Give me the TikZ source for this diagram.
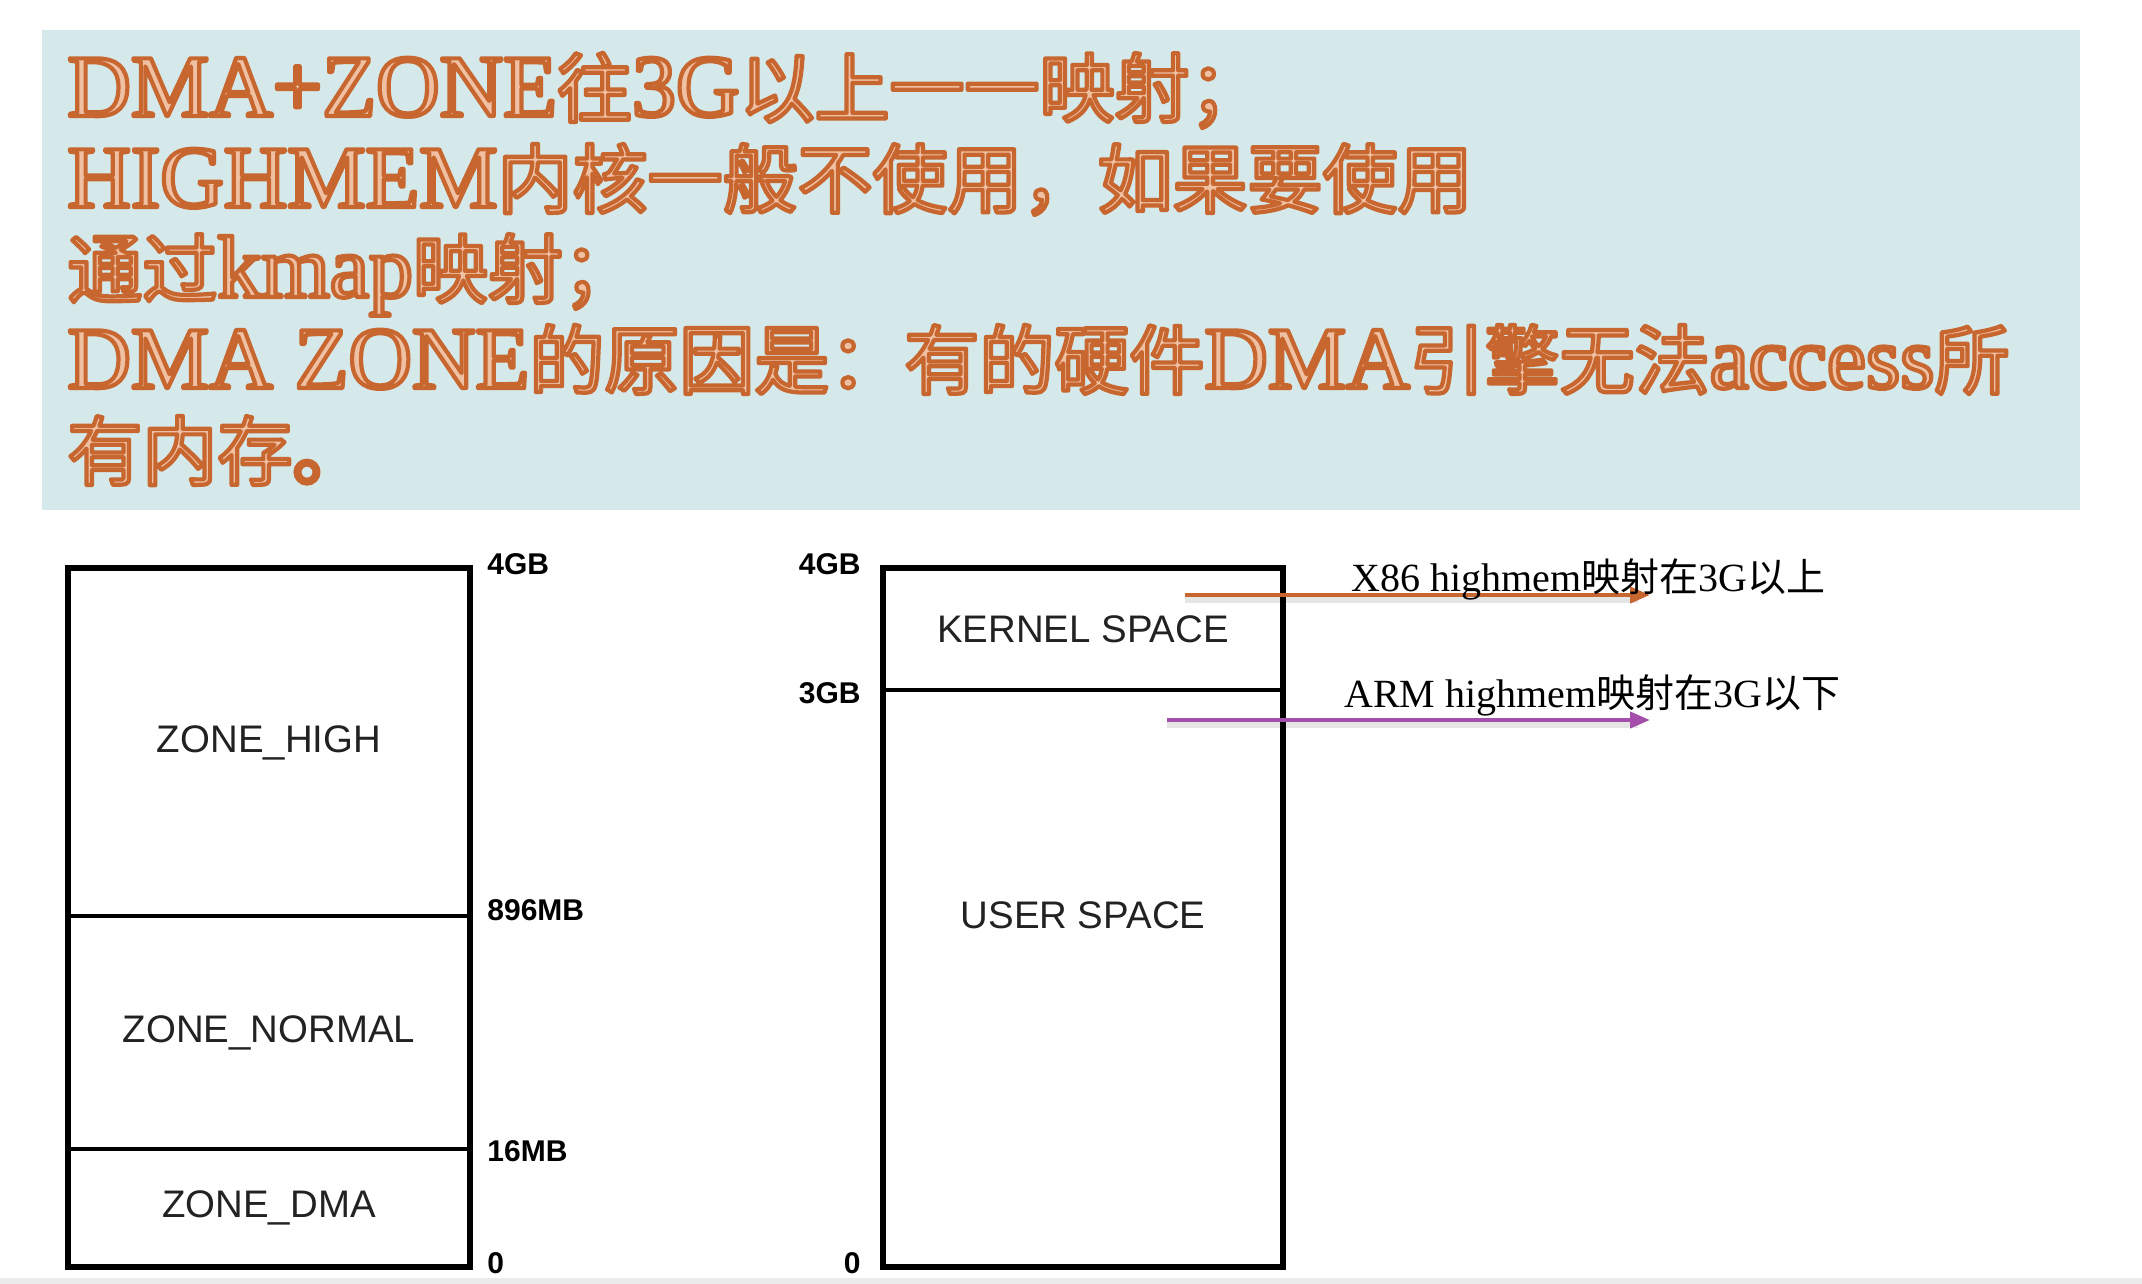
\documentclass[tikz,border=0pt]{standalone}
\usepackage{fontspec}
\setmainfont{Liberation Serif}
\setsansfont{Liberation Sans}
\newfontfamily\cjk{Noto Sans CJK SC}
\usetikzlibrary{arrows.meta}
\definecolor{panelbg}{HTML}{D5E8EA}
\definecolor{wordline}{HTML}{C8662F}
\definecolor{wordfill}{HTML}{F0C0A2}
\definecolor{archpurple}{HTML}{A44FAA}
\definecolor{stripgray}{HTML}{EBEBEB}
\definecolor{zonetext}{HTML}{222222}
\newcommand\hcjk[1]{{\cjk\fontsize{37.5}{45}\selectfont #1}}
\newcommand\lcjk[1]{{\cjk\fontsize{19.5}{24}\selectfont #1}}
\newcommand\wordart[1]{\special{pdf:literal direct 0.784 0.4 0.184 RG 2 Tr 2.1 w 1 j}#1\special{pdf:literal direct 0 Tr}}
\begin{document}
\begin{tikzpicture}[x=0.5pt,y=-0.5pt,
  headline/.style={anchor=base west,inner sep=0pt,text=wordfill,font=\fontsize{44}{50}\selectfont},
  zone/.style={draw=black,line width=1.75pt,minimum width=200pt,inner sep=0pt,font=\sffamily\fontsize{19.2}{23}\selectfont,text=zonetext},
  zonelabel/.style={inner sep=0pt,font=\sffamily\fontsize{19.2}{23}\selectfont,text=zonetext},
  addr/.style={inner sep=0pt,font=\sffamily\bfseries\fontsize{15}{18}\selectfont},
  maplabel/.style={anchor=base west,inner sep=0pt,font=\fontsize{20}{24}\selectfont},
  maparrow/.style={line width=2pt,-{Triangle[length=10pt,width=8pt]}},
  arrowshadow/.style={line width=3pt,black,opacity=0.10},
]
\useasboundingbox (0,0) rectangle (2142,1284);
\fill[white] (0,0) rectangle (2142,1284);
\fill[stripgray] (0,1278) rectangle (2142,1284);
\node[fill=panelbg,inner sep=0pt,minimum width=1019pt,minimum height=240pt,anchor=north west] (panel) at (42,30) {};
\node[headline] (l1) at (67,116) {\wordart{DMA+ZONE\hcjk{往}3G\hcjk{以上一一映射；}}};
\node[headline] (l2) at (67,207) {\wordart{HIGHMEM\hcjk{内核一般不使用，如果要使用}}};
\node[headline] (l3) at (67,297) {\wordart{\hcjk{通过}kmap\hcjk{映射；}}};
\node[headline] (l4) at (67,388) {\wordart{DMA ZONE\hcjk{的原因是：有的硬件}DMA\hcjk{引擎无法}access\hcjk{所}}};
\node[headline] (l5) at (67,479) {\wordart{\hcjk{有内存。}}};
% left memory map
\node[zone,minimum height=173.5pt] (zhigh) at (269,742.5) {ZONE\_HIGH};
\node[zone,minimum height=116.5pt] (znormal) at (269,1032.5) {ZONE\_NORMAL};
\node[zone,minimum height=58.5pt] (zdma) at (269,1207.5) {ZONE\_DMA};
\draw[line width=2.2pt] (zhigh.north west) rectangle (zdma.south east);
\node[addr,anchor=west] (a4l) at (487,564) {4GB};
\node[addr,anchor=west] (a896) at (487,910) {896MB};
\node[addr,anchor=west] (a16) at (487,1151) {16MB};
\node[addr,anchor=west] (a0l) at (487,1263) {0};
% right memory map
\node[zone,minimum width=199pt,minimum height=60.5pt] (kernel) at (1083,629.5) {KERNEL SPACE};
\node[zone,minimum width=199pt,minimum height=288pt] (user) at (1083,978) {};
\node[zonelabel] (usertext) at (1083,915) {USER SPACE};
\draw[line width=2.2pt] (kernel.north west) rectangle (user.south east);
\node[addr,anchor=east] (a4r) at (861,564) {4GB};
\node[addr,anchor=east] (a3r) at (861,693) {3GB};
\node[addr,anchor=east] (a0r) at (861,1263) {0};
% mapping arrows
\coordinate (x86s) at (1185,595);
\coordinate (x86e) at (1650,595);
\coordinate (arms) at (1167,720);
\coordinate (arme) at (1650,720);
\draw[arrowshadow] ([yshift=-2.5pt]x86s) -- ([yshift=-2.5pt,xshift=-6pt]x86e);
\draw[arrowshadow] ([yshift=-2.5pt]arms) -- ([yshift=-2.5pt,xshift=-6pt]arme);
\draw[maparrow,wordline] (x86s) -- (x86e);
\draw[maparrow,archpurple] (arms) -- (arme);
\node[maplabel] (x86lbl) at (1351,591) {X86 highmem\lcjk{映射在}3G\lcjk{以上}};
\node[maplabel] (armlbl) at (1344,707) {ARM highmem\lcjk{映射在}3G\lcjk{以下}};
\end{tikzpicture}
\end{document}
